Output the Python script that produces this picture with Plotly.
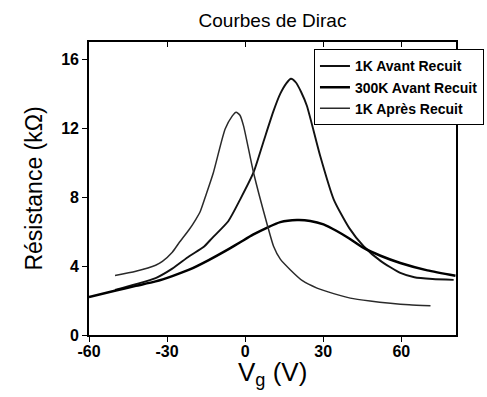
import plotly.graph_objects as go

# 1K Avant Recuit
v_1k_avant = [-50.0, -42.0, -34.4, -28.0, -21.5, -16.0, -12.6, -6.5, -1.9, 3.2, 7.0, 10.9, 13.5, 15.8, 17.6, 19.5, 21.5, 23.7, 28.8, 34.0, 40.0, 45.5, 52.0, 59.6, 65.0, 72.0, 80.1]
r_1k_avant = [2.62, 2.95, 3.30, 3.85, 4.57, 5.10, 5.64, 6.60, 7.87, 9.43, 11.20, 13.00, 14.00, 14.60, 14.87, 14.65, 14.10, 13.30, 10.40, 7.87, 6.20, 5.15, 4.30, 3.60, 3.35, 3.25, 3.20]
# 300K Avant Recuit
v_300k = [-60.0, -49.7, -42.0, -34.4, -28.0, -21.5, -14.0, -6.2, -1.9, 3.0, 8.3, 13.5, 19.9, 25.0, 30.1, 35.0, 40.0, 45.5, 52.0, 59.6, 70.0, 80.8]
r_300k = [2.20, 2.58, 2.85, 3.11, 3.42, 3.79, 4.35, 5.00, 5.38, 5.82, 6.22, 6.55, 6.67, 6.62, 6.42, 6.05, 5.60, 5.05, 4.60, 4.18, 3.75, 3.44]
# 1K Apres Recuit
v_1k_apres = [-50.0, -42.0, -34.4, -31.8, -28.0, -25.4, -21.5, -19.0, -17.3, -15.0, -12.2, -7.7, -5.0, -3.5, -2.0, -0.65, 3.2, 8.3, 10.9, 13.5, 17.3, 22.0, 27.6, 34.0, 40.4, 48.0, 55.8, 63.0, 71.2]
r_1k_apres = [3.45, 3.70, 4.05, 4.27, 4.80, 5.35, 6.12, 6.70, 7.15, 8.15, 9.43, 11.95, 12.70, 12.93, 12.75, 12.15, 9.43, 6.50, 5.15, 4.40, 3.79, 3.15, 2.72, 2.40, 2.14, 1.97, 1.84, 1.75, 1.69]

x_ticks = [-60, -30, 0, 30, 60]
x_tick_text = ["-60", "-30", "0", "30", "60"]
y_ticks = [0, 4, 8, 12, 16]

fig = go.Figure()
fig.add_trace(go.Scatter(x=v_1k_avant, y=r_1k_avant, mode="lines", name="1K Avant Recuit",
                         line=dict(color="#111111", width=1.9, shape="spline", smoothing=0.6)))
fig.add_trace(go.Scatter(x=v_300k, y=r_300k, mode="lines", name="300K Avant Recuit",
                         line=dict(color="#000000", width=2.5, shape="spline", smoothing=0.6)))
fig.add_trace(go.Scatter(x=v_1k_apres, y=r_1k_apres, mode="lines", name="1K Après Recuit",
                         line=dict(color="#2a2a2a", width=1.5, shape="spline", smoothing=0.6)))
# helper trace so the top axis (inside ticks) is drawn
fig.add_trace(go.Scatter(x=[None], y=[None], xaxis="x2", mode="lines", showlegend=False, hoverinfo="skip"))

font_family = "Liberation Sans, Arial, sans-serif"
fig.update_layout(
    width=487, height=397,
    margin=dict(l=89, r=31, t=42, b=62, autoexpand=False),
    paper_bgcolor="white", plot_bgcolor="white",
    font=dict(family=font_family, color="black"),
    title=dict(text="Courbes de Dirac", xref="paper", x=0.5, xanchor="center",
               y=1 - 20 / 397, yanchor="middle", font=dict(size=19)),
    showlegend=True,
    legend=dict(x=0.613, y=0.975, xanchor="left", yanchor="top",
                bgcolor="white", bordercolor="black", borderwidth=1,
                font=dict(size=14, family=font_family, weight="bold"),
                itemwidth=30, tracegroupgap=0),
    xaxis=dict(range=[-60, 81], tickvals=x_ticks, ticktext=x_tick_text, ticks="outside", ticklen=5, tickwidth=1.3,
               tickcolor="black", showline=True, linecolor="black", linewidth=1.6, mirror=True,
               showgrid=False, zeroline=False, tickfont=dict(size=16, weight="bold"),
               ticklabelstandoff=-4),
    yaxis=dict(range=[0, 17], tickvals=y_ticks, ticks="outside", ticklen=5, tickwidth=1.3,
               tickcolor="black", showline=True, linecolor="black", linewidth=1.6, mirror=True,
               showgrid=False, zeroline=False, tickfont=dict(size=16, weight="bold"),
               title=dict(text="Résistance (kΩ)", font=dict(size=23), standoff=12)),
    xaxis2=dict(range=[-60, 81], tickvals=x_ticks, ticks="inside", ticklen=5, tickwidth=1.3,
                tickcolor="black", overlaying="x", side="top", showticklabels=False,
                showgrid=False, zeroline=False, showline=False),
    annotations=[dict(text="V<sub>g</sub> (V)", xref="paper", yref="paper", x=0.5, y=-0.068,
                      xanchor="center", yanchor="top", showarrow=False, font=dict(size=26))],
)

fig.write_html("out.html")
